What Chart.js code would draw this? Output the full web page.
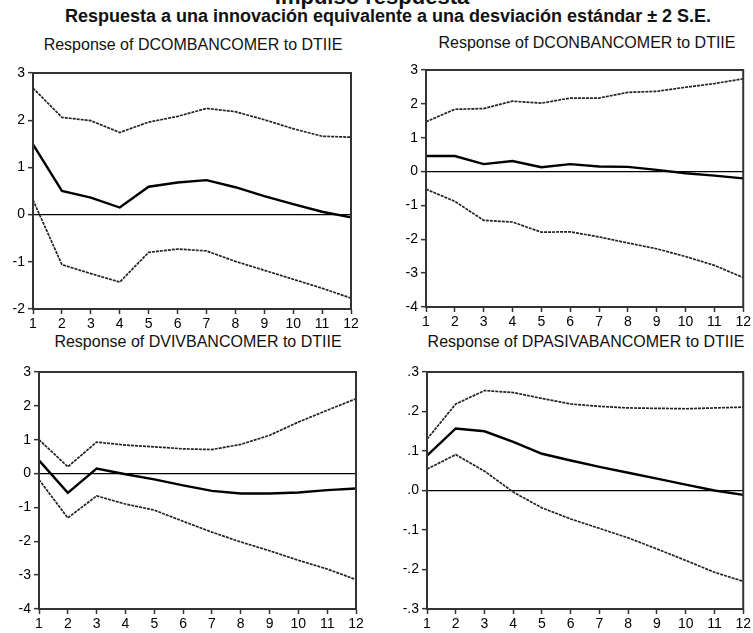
<!DOCTYPE html>
<html lang="es">
<head>
    <meta charset="UTF-8">
    <title>Impulso respuesta</title>
    <script src="https://cdn.jsdelivr.net/npm/chart.js"></script>
    <style>
        body, html {
            margin: 0;
            padding: 0;
            width: 753px;
            height: 633px;
            overflow: hidden;
            background-color: #ffffff;
            font-family: 'Liberation Sans', Arial, sans-serif;
            color: #111;
        }
        .txt {
            position: absolute;
            white-space: nowrap;
            text-align: center;
            line-height: 1.2;
        }
        .main-title {
            font-weight: bold;
            font-size: 22px;
            left: 172px;
            width: 400px;
            top: -16px;
        }
        .sub-title {
            font-weight: bold;
            font-size: 18px;
            left: 38px;
            width: 700px;
            top: 6px;
        }
        .panel-title {
            font-size: 16px;
            width: 400px;
        }
        canvas {
            position: absolute;
        }
    </style>
</head>
<body>
    <div class="txt main-title">Impulso respuesta</div>
    <div class="txt sub-title">Respuesta a una innovación equivalente a una desviación estándar ± 2 S.E.</div>

    <div class="txt panel-title" style="left:-7px; top:35px;">Response of DCOMBANCOMER to DTIIE</div>
    <div class="txt panel-title" style="left:387px; top:33px;">Response of DCONBANCOMER to DTIIE</div>
    <div class="txt panel-title" style="left:-2px; top:332px;">Response of DVIVBANCOMER to DTIIE</div>
    <div class="txt panel-title" style="left:386px; top:332px;">Response of DPASIVABANCOMER to DTIIE</div>

    <canvas id="c1" width="376" height="275" style="left:0; top:55px;"></canvas>
    <canvas id="c2" width="377" height="275" style="left:376px; top:55px;"></canvas>
    <canvas id="c3" width="376" height="278" style="left:0; top:355px;"></canvas>
    <canvas id="c4" width="377" height="278" style="left:376px; top:355px;"></canvas>

    <script>
        // Periodos (horizonte de la respuesta)
        const periods = ['1', '2', '3', '4', '5', '6', '7', '8', '9', '10', '11', '12'];

        // DCOMBANCOMER
        const comUpper  = [2.68, 2.06, 1.99, 1.74, 1.96, 2.08, 2.25, 2.18, 2.01, 1.82, 1.66, 1.64];
        const comResp   = [1.49, 0.50, 0.36, 0.15, 0.59, 0.68, 0.73, 0.58, 0.39, 0.22, 0.06, -0.06];
        const comLower  = [0.31, -1.06, -1.25, -1.43, -0.80, -0.73, -0.77, -0.99, -1.18, -1.37, -1.56, -1.77];
        const comTicks  = [-2, -1, 0, 1, 2, 3];
        const comLabels = ['-2', '-1', '0', '1', '2', '3'];

        // DCONBANCOMER
        const conUpper  = [1.47, 1.84, 1.86, 2.08, 2.02, 2.17, 2.17, 2.34, 2.37, 2.49, 2.60, 2.74];
        const conResp   = [0.46, 0.46, 0.22, 0.31, 0.13, 0.22, 0.15, 0.14, 0.05, -0.05, -0.12, -0.20];
        const conLower  = [-0.52, -0.88, -1.44, -1.49, -1.79, -1.78, -1.93, -2.11, -2.28, -2.51, -2.77, -3.13];
        const conTicks  = [-4, -3, -2, -1, 0, 1, 2, 3];
        const conLabels = ['-4', '-3', '-2', '-1', '0', '1', '2', '3'];

        // DVIVBANCOMER
        const vivUpper  = [1.00, 0.20, 0.93, 0.84, 0.79, 0.73, 0.71, 0.86, 1.13, 1.52, 1.87, 2.21];
        const vivResp   = [0.39, -0.57, 0.15, -0.02, -0.17, -0.35, -0.51, -0.59, -0.59, -0.56, -0.49, -0.44];
        const vivLower  = [-0.18, -1.31, -0.66, -0.90, -1.08, -1.41, -1.73, -2.02, -2.28, -2.56, -2.82, -3.13];
        const vivTicks  = [-4, -3, -2, -1, 0, 1, 2, 3];
        const vivLabels = ['-4', '-3', '-2', '-1', '0', '1', '2', '3'];

        // DPASIVABANCOMER
        const pasUpper  = [0.130, 0.219, 0.253, 0.248, 0.233, 0.219, 0.213, 0.209, 0.208, 0.207, 0.209, 0.211];
        const pasResp   = [0.088, 0.157, 0.150, 0.123, 0.093, 0.076, 0.060, 0.045, 0.030, 0.015, 0.000, -0.011];
        const pasLower  = [0.054, 0.091, 0.049, -0.004, -0.044, -0.072, -0.096, -0.120, -0.148, -0.177, -0.207, -0.230];
        const pasTicks  = [-0.3, -0.2, -0.1, 0, 0.1, 0.2, 0.3];
        const pasLabels = ['-.3', '-.2', '-.1', '.0', '.1', '.2', '.3'];

        const FONT = "'Liberation Sans', Arial, sans-serif";
        const AXIS = '#333';

        // marco completo alrededor del area de datos
        const frame = {
            id: 'frame',
            afterDatasetsDraw(chart) {
                const a = chart.chartArea;
                const ctx = chart.ctx;
                ctx.save();
                ctx.strokeStyle = AXIS;
                ctx.lineWidth = 2;
                ctx.strokeRect(a.left, a.top, a.right - a.left, a.bottom - a.top);
                ctx.restore();
            }
        };

        function makePanel(id, upper, resp, lower, ticks, labels, box) {
            const band = {
                borderColor: '#222',
                borderWidth: 1.7,
                borderDash: [3, 1],
                pointRadius: 0,
                tension: 0,
                fill: false
            };
            new Chart(document.getElementById(id).getContext('2d'), {
                type: 'line',
                data: {
                    labels: periods,
                    datasets: [
                        Object.assign({ data: upper }, band),
                        { data: resp, borderColor: '#000', borderWidth: 2.4, pointRadius: 0, tension: 0, fill: false },
                        Object.assign({ data: lower }, band)
                    ]
                },
                options: {
                    responsive: false,
                    animation: false,
                    events: [],
                    layout: { padding: { top: box.top, right: box.right, left: 0, bottom: 0 } },
                    plugins: { legend: { display: false }, tooltip: { enabled: false } },
                    scales: {
                        x: {
                            offset: false,
                            afterFit: s => { s.height = box.xh; },
                            border: { display: true, color: AXIS, width: 2 },
                            grid: { drawOnChartArea: false, tickLength: 5, tickColor: AXIS, tickWidth: 1.5 },
                            ticks: { color: '#000', padding: 2, maxRotation: 0, autoSkip: false, font: { family: FONT, size: 14 } }
                        },
                        y: {
                            min: ticks[0],
                            max: ticks[ticks.length - 1],
                            afterFit: s => { s.width = box.yw; },
                            afterBuildTicks: s => { s.ticks = ticks.map(v => ({ value: v })); },
                            border: { display: true, color: AXIS, width: 2 },
                            grid: {
                                color: c => (c.tick && c.tick.value === 0 ? '#000' : 'rgba(0,0,0,0)'),
                                lineWidth: 1.3,
                                tickLength: 5,
                                tickColor: AXIS,
                                tickWidth: 1.5
                            },
                            ticks: {
                                color: '#000',
                                padding: 3,
                                font: { family: FONT, size: 14 },
                                callback: (v, i) => labels[i]
                            }
                        }
                    }
                },
                plugins: [frame]
            });
        }

        makePanel('c1', comUpper, comResp, comLower, comTicks, comLabels, { top: 18, right: 25, xh: 21, yw: 33 });
        makePanel('c2', conUpper, conResp, conLower, conTicks, conLabels, { top: 15, right: 9, xh: 23, yw: 50 });
        makePanel('c3', vivUpper, vivResp, vivLower, vivTicks, vivLabels, { top: 17, right: 20, xh: 24, yw: 39 });
        makePanel('c4', pasUpper, pasResp, pasLower, pasTicks, pasLabels, { top: 17, right: 9, xh: 24, yw: 51 });
    </script>
</body>
</html>
